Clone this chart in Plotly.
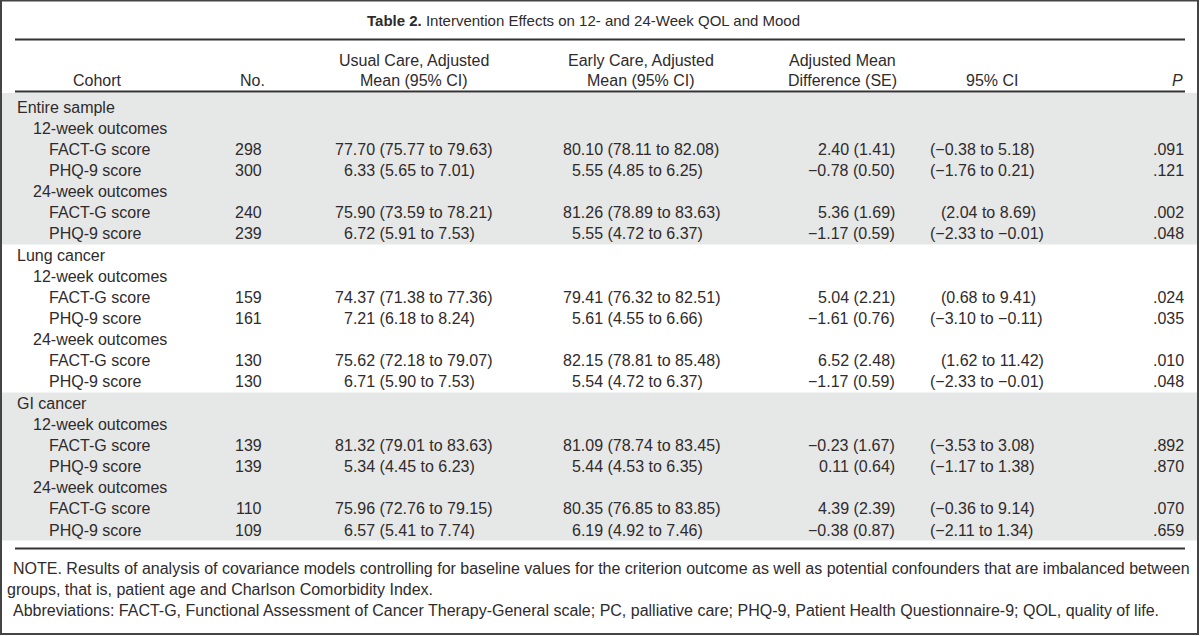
import plotly.graph_objects as go

# ---------------- data ----------------
title_bold = "Table 2."
title_rest = " Intervention Effects on 12- and 24-Week QOL and Mood"

header_line1 = ["", "", "Usual Care, Adjusted", "Early Care, Adjusted", "Adjusted Mean", "", ""]
header_line2 = ["Cohort", "No.", "Mean (95% CI)", "Mean (95% CI)", "Difference (SE)", "95% CI", "P"]

cohorts = ["Entire sample", "Lung cancer", "GI cancer"]
timepoints = ["12-week outcomes", "24-week outcomes"]
measures = ["FACT-G score", "PHQ-9 score"]

n = [298, 300, 240, 239, 159, 161, 130, 130, 139, 139, 110, 109]
usual_mean = [77.70, 6.33, 75.90, 6.72, 74.37, 7.21, 75.62, 6.71, 81.32, 5.34, 75.96, 6.57]
usual_lo = [75.77, 5.65, 73.59, 5.91, 71.38, 6.18, 72.18, 5.90, 79.01, 4.45, 72.76, 5.41]
usual_hi = [79.63, 7.01, 78.21, 7.53, 77.36, 8.24, 79.07, 7.53, 83.63, 6.23, 79.15, 7.74]
early_mean = [80.10, 5.55, 81.26, 5.55, 79.41, 5.61, 82.15, 5.54, 81.09, 5.44, 80.35, 6.19]
early_lo = [78.11, 4.85, 78.89, 4.72, 76.32, 4.55, 78.81, 4.72, 78.74, 4.53, 76.85, 4.92]
early_hi = [82.08, 6.25, 83.63, 6.37, 82.51, 6.66, 85.48, 6.37, 83.45, 6.35, 83.85, 7.46]
diff = [2.40, -0.78, 5.36, -1.17, 5.04, -1.61, 6.52, -1.17, -0.23, 0.11, 4.39, -0.38]
diff_se = [1.41, 0.50, 1.69, 0.59, 2.21, 0.76, 2.48, 0.59, 1.67, 0.64, 2.39, 0.87]
ci_lo = [-0.38, -1.76, 2.04, -2.33, 0.68, -3.10, 1.62, -2.33, -3.53, -1.17, -0.36, -2.11]
ci_hi = [5.18, 0.21, 8.69, -0.01, 9.41, -0.11, 11.42, -0.01, 3.08, 1.38, 9.14, 1.34]
p_values = [".091", ".121", ".002", ".048", ".024", ".035", ".010", ".048", ".892", ".870", ".070", ".659"]

note_lines = [
    "NOTE. Results of analysis of covariance models controlling for baseline values for the criterion outcome as well as potential confounders that are imbalanced between",
    "groups, that is, patient age and Charlson Comorbidity Index.",
    "Abbreviations: FACT-G, Functional Assessment of Cancer Therapy-General scale; PC, palliative care; PHQ-9, Patient Health Questionnaire-9; QOL, quality of life.",
]

# ---------------- styles / layout ----------------
W, H = 1200, 636
FONT = "Liberation Sans"
TXT = "#2f2b2c"
SHADE = "#e6e7e7"
BODY_SIZE = 16
DIGIT_W = 0.556 * BODY_SIZE
ROW0 = 107
ROW_H = 21.15
MINUS = "\u2212"


def fmt(v):
    s = f"{abs(v):.2f}"
    return (MINUS + s) if v < 0 else s


fig = go.Figure()
fig.update_layout(
    width=W, height=H, margin=dict(l=0, r=0, t=0, b=0),
    paper_bgcolor="white", plot_bgcolor="white", showlegend=False,
    xaxis=dict(range=[0, W], visible=False, fixedrange=True),
    yaxis=dict(range=[H, 0], visible=False, fixedrange=True),
)

shapes = []
annots = []


def text(x, y, s, anchor="left", size=BODY_SIZE, family=FONT, color=TXT):
    annots.append(dict(x=x, y=y, xref="x", yref="y", text=s, showarrow=False,
                       xanchor=anchor, yanchor="middle", borderpad=0,
                       font=dict(family=family, size=size, color=color)))


def row_y(i):
    return ROW0 + i * ROW_H


# build list of rows
rows = []  # (label, level, data_index or None)
k = 0
for c in cohorts:
    rows.append((c, 0, None))
    for t in timepoints:
        rows.append((t, 1, None))
        for m in measures:
            rows.append((m, 2, k))
            k += 1

# shaded bands per cohort
rows_per_cohort = 1 + len(timepoints) * (1 + len(measures))
for ci in range(len(cohorts)):
    if ci % 2 == 0:
        top = row_y(ci * rows_per_cohort) - ROW_H / 2
        if ci == 0:
            top = 93
        bot = row_y((ci + 1) * rows_per_cohort - 1) + ROW_H / 2
        shapes.append(dict(type="rect", xref="x", yref="y", x0=2, x1=1197, y0=top, y1=bot,
                           fillcolor=SHADE, line=dict(width=0), layer="below"))

# rules
for yy in [39.5, 91.5, 548.5]:
    shapes.append(dict(type="line", xref="x", yref="y", x0=15, x1=1185, y0=yy, y1=yy,
                       line=dict(color="#333333", width=2)))
# outer frame
shapes.append(dict(type="rect", xref="x", yref="y", x0=1, x1=1198, y0=0.5, y1=634,
                   line=dict(color="#444444", width=2), fillcolor="rgba(0,0,0,0)"))

# title
text(583, 20, f"<b>{title_bold}</b>{title_rest}", anchor="center", size=15)

# headers
hx = [97, 252, 414, 641, 842, 992, 1177]
for j in range(len(header_line2)):
    if header_line1[j]:
        text(hx[j], 60, header_line1[j], anchor="center")
    lab = header_line2[j]
    if lab == "P":
        lab = "<i>P</i>"
    text(hx[j], 80, lab, anchor="center")

# body
indent = [16, 32, 48]
for i, (label, lvl, d) in enumerate(rows):
    y = row_y(i)
    text(indent[lvl], y, label)
    if d is None:
        continue
    text(263, y, str(n[d]), anchor="right")
    ux = 334 + (DIGIT_W if usual_mean[d] < 10 else 0)
    text(ux, y, f"{usual_mean[d]:.2f} ({usual_lo[d]:.2f} to {usual_hi[d]:.2f})")
    ex = 562 + (DIGIT_W if early_mean[d] < 10 else 0)
    text(ex, y, f"{early_mean[d]:.2f} ({early_lo[d]:.2f} to {early_hi[d]:.2f})")
    text(896, y, f"{fmt(diff[d])} ({diff_se[d]:.2f})", anchor="right")
    cx = 929 if ci_lo[d] < 0 else 940
    text(cx, y, f"({fmt(ci_lo[d])} to {fmt(ci_hi[d])})")
    text(1185, y, p_values[d], anchor="right")

# notes
note_x = [12, 6, 12]
note_y = [568, 589, 610]
for s, x, y in zip(note_lines, note_x, note_y):
    text(x, y, s, size=16)

fig.update_layout(shapes=shapes, annotations=annots)
fig.write_html("out.html", config={"displayModeBar": False},
               post_script="document.body.style.margin='0';document.body.style.overflow='hidden';")
